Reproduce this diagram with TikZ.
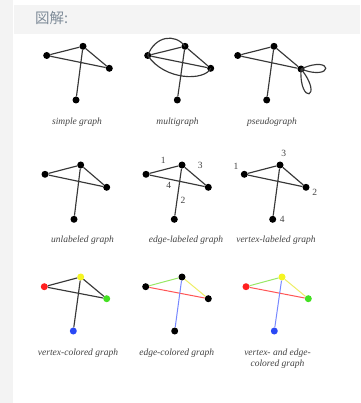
\documentclass[tikz,border=0pt]{standalone}
\usepackage{fontspec}
\setmainfont{Liberation Serif}
\newfontfamily\cjk{Noto Sans CJK JP}
\definecolor{stripgray}{HTML}{F3F3F3}
\definecolor{headgray}{HTML}{F4F4F4}
\definecolor{headtext}{HTML}{7F8C99}
\definecolor{captext}{HTML}{444444}
\definecolor{edgegray}{HTML}{383838}
\definecolor{vred}{HTML}{FF2020}
\definecolor{vyellow}{HTML}{F5F522}
\definecolor{vgreen}{HTML}{44E022}
\definecolor{vblue}{HTML}{2A48F5}
\definecolor{ered}{HTML}{FF5555}
\definecolor{eyellow}{HTML}{EEEE66}
\definecolor{egreen}{HTML}{99E866}
\definecolor{eblue}{HTML}{7788FF}
\tikzset{
  vtx/.style={circle,fill=black,inner sep=0pt,minimum size=7pt},
  edg/.style={draw=edgegray,line width=1.15pt},
  cedg/.style={line width=1pt},
  gcaption/.style={font=\fontsize{9.5}{11}\selectfont\itshape,text=captext,inner sep=0pt,align=center},
  num/.style={font=\fontsize{9.5}{11}\selectfont,text=captext,inner sep=0pt},
}
\begin{document}
\begin{tikzpicture}[x=1pt,y=-1pt]
\useasboundingbox (0,0) rectangle (360,403);
\fill[white] (0,0) rectangle (360,403);
\fill[stripgray] (0,0) rectangle (13,403);
\fill[headgray] (14,5) rectangle (360,34);
\node[font=\cjk\fontsize{14.5}{16}\selectfont,text=headtext,anchor=west,inner sep=0pt] (hdr) at (35,18.5) {図解:};

% simple graph
\node[vtx] (a1) at (46.7,55.5) {};
\node[vtx] (a2) at (83,46.3) {};
\node[vtx] (a3) at (109.3,68.3) {};
\node[vtx] (a4) at (76,100) {};
\draw[edg] (a1) -- (a2) (a1) -- (a3) (a2) -- (a3) (a2) -- (a4);
\node[gcaption] (ca) at (77,122.7) {simple graph};

% multigraph
\node[vtx] (b1) at (147.7,55.5) {};
\node[vtx] (b2) at (185,46.3) {};
\node[vtx] (b3) at (210.7,68.3) {};
\node[vtx] (b4) at (177.3,100) {};
\draw[edg] (b1) -- (b2) (b1) -- (b3) (b2) -- (b3) (b2) -- (b4);
\draw[edg] (b1.center) .. controls (155,36) and (175,33) .. (b2.center);
\draw[edg] (b1.center) .. controls (165,81) and (205,81) .. (b3.center);
\node[gcaption] (cb) at (177.5,122.7) {multigraph};

% pseudograph
\node[vtx] (c1) at (237.7,55.5) {};
\node[vtx] (c2) at (274,46.3) {};
\node[vtx] (c3) at (301,69) {};
\node[vtx] (c4) at (266.7,100) {};
\draw[edg] (c1) -- (c2) (c1) -- (c3) (c2) -- (c3) (c2) -- (c4);
\draw[edg] (c3.center) .. controls (334,54) and (334,82) .. (c3.center);
\draw[edg] (c3.center) .. controls (299,106) and (324.5,98) .. (c3.center);
\node[gcaption] (cc) at (272,122.7) {pseudograph};

% unlabeled graph
\node[vtx] (d1) at (45,174.3) {};
\node[vtx] (d2) at (80.7,165) {};
\node[vtx] (d3) at (106.7,187.3) {};
\node[vtx] (d4) at (74,219.3) {};
\draw[edg] (d1) -- (d2) (d1) -- (d3) (d2) -- (d3) (d2) -- (d4);
\node[gcaption] (cd) at (82.5,240.5) {unlabeled graph};

% edge-labeled graph
\node[vtx] (e1) at (146,174.3) {};
\node[vtx] (e2) at (182,165) {};
\node[vtx] (e3) at (208.3,187.3) {};
\node[vtx] (e4) at (174.3,219.3) {};
\draw[edg] (e1) -- (e2) (e1) -- (e3) (e2) -- (e3) (e2) -- (e4);
\node[num] (el1) at (163.3,160) {1};
\node[num] (el3) at (200.3,165) {3};
\node[num] (el4) at (168.7,185.7) {4};
\node[num] (el2) at (183,200) {2};
\node[gcaption] (ce) at (186,240.5) {edge-labeled graph};

% vertex-labeled graph
\node[vtx] (f1) at (244.3,174.3) {};
\node[vtx] (f2) at (280,165) {};
\node[vtx] (f3) at (306,187.3) {};
\node[vtx] (f4) at (272.7,219.3) {};
\draw[edg] (f1) -- (f2) (f1) -- (f3) (f2) -- (f3) (f2) -- (f4);
\node[num] (fl1) at (236,166) {1};
\node[num] (fl3) at (283.7,153.3) {3};
\node[num] (fl2) at (314.7,192.3) {2};
\node[num] (fl4) at (282.3,219) {4};
\node[gcaption] (cf) at (276,240.5) {vertex-labeled graph};

% vertex-colored graph
\node[vtx,fill=vred] (g1) at (44.3,286.7) {};
\node[vtx,fill=vyellow] (g2) at (80.7,277) {};
\node[vtx,fill=vgreen] (g3) at (106.7,298.7) {};
\node[vtx,fill=vblue] (g4) at (73.3,331) {};
\draw[edg] (g1) -- (g2) (g1) -- (g3) (g2) -- (g3) (g2) -- (g4);
\node[gcaption] (cg) at (78,353.3) {vertex-colored graph};

% edge-colored graph
\node[vtx] (h1) at (145.7,286.7) {};
\node[vtx] (h2) at (182,277) {};
\node[vtx] (h3) at (208.3,298.7) {};
\node[vtx] (h4) at (174.7,331) {};
\draw[cedg,egreen] (h1) -- (h2);
\draw[cedg,ered] (h1) -- (h3);
\draw[cedg,eyellow] (h2) -- (h3);
\draw[cedg,eblue] (h2) -- (h4);
\node[gcaption] (ch) at (176.7,353.3) {edge-colored graph};

% vertex- and edge-colored graph
\node[vtx,fill=vred] (k1) at (246,286.7) {};
\node[vtx,fill=vyellow] (k2) at (282,277) {};
\node[vtx,fill=vgreen] (k3) at (308.3,298.7) {};
\node[vtx,fill=vblue] (k4) at (274.3,331) {};
\draw[cedg,egreen] (k1) -- (k2);
\draw[cedg,ered] (k1) -- (k3);
\draw[cedg,eyellow] (k2) -- (k3);
\draw[cedg,eblue] (k2) -- (k4);
\node[gcaption] (ck) at (277.5,358.8) {vertex- and edge-\\colored graph};
\end{tikzpicture}
\end{document}
